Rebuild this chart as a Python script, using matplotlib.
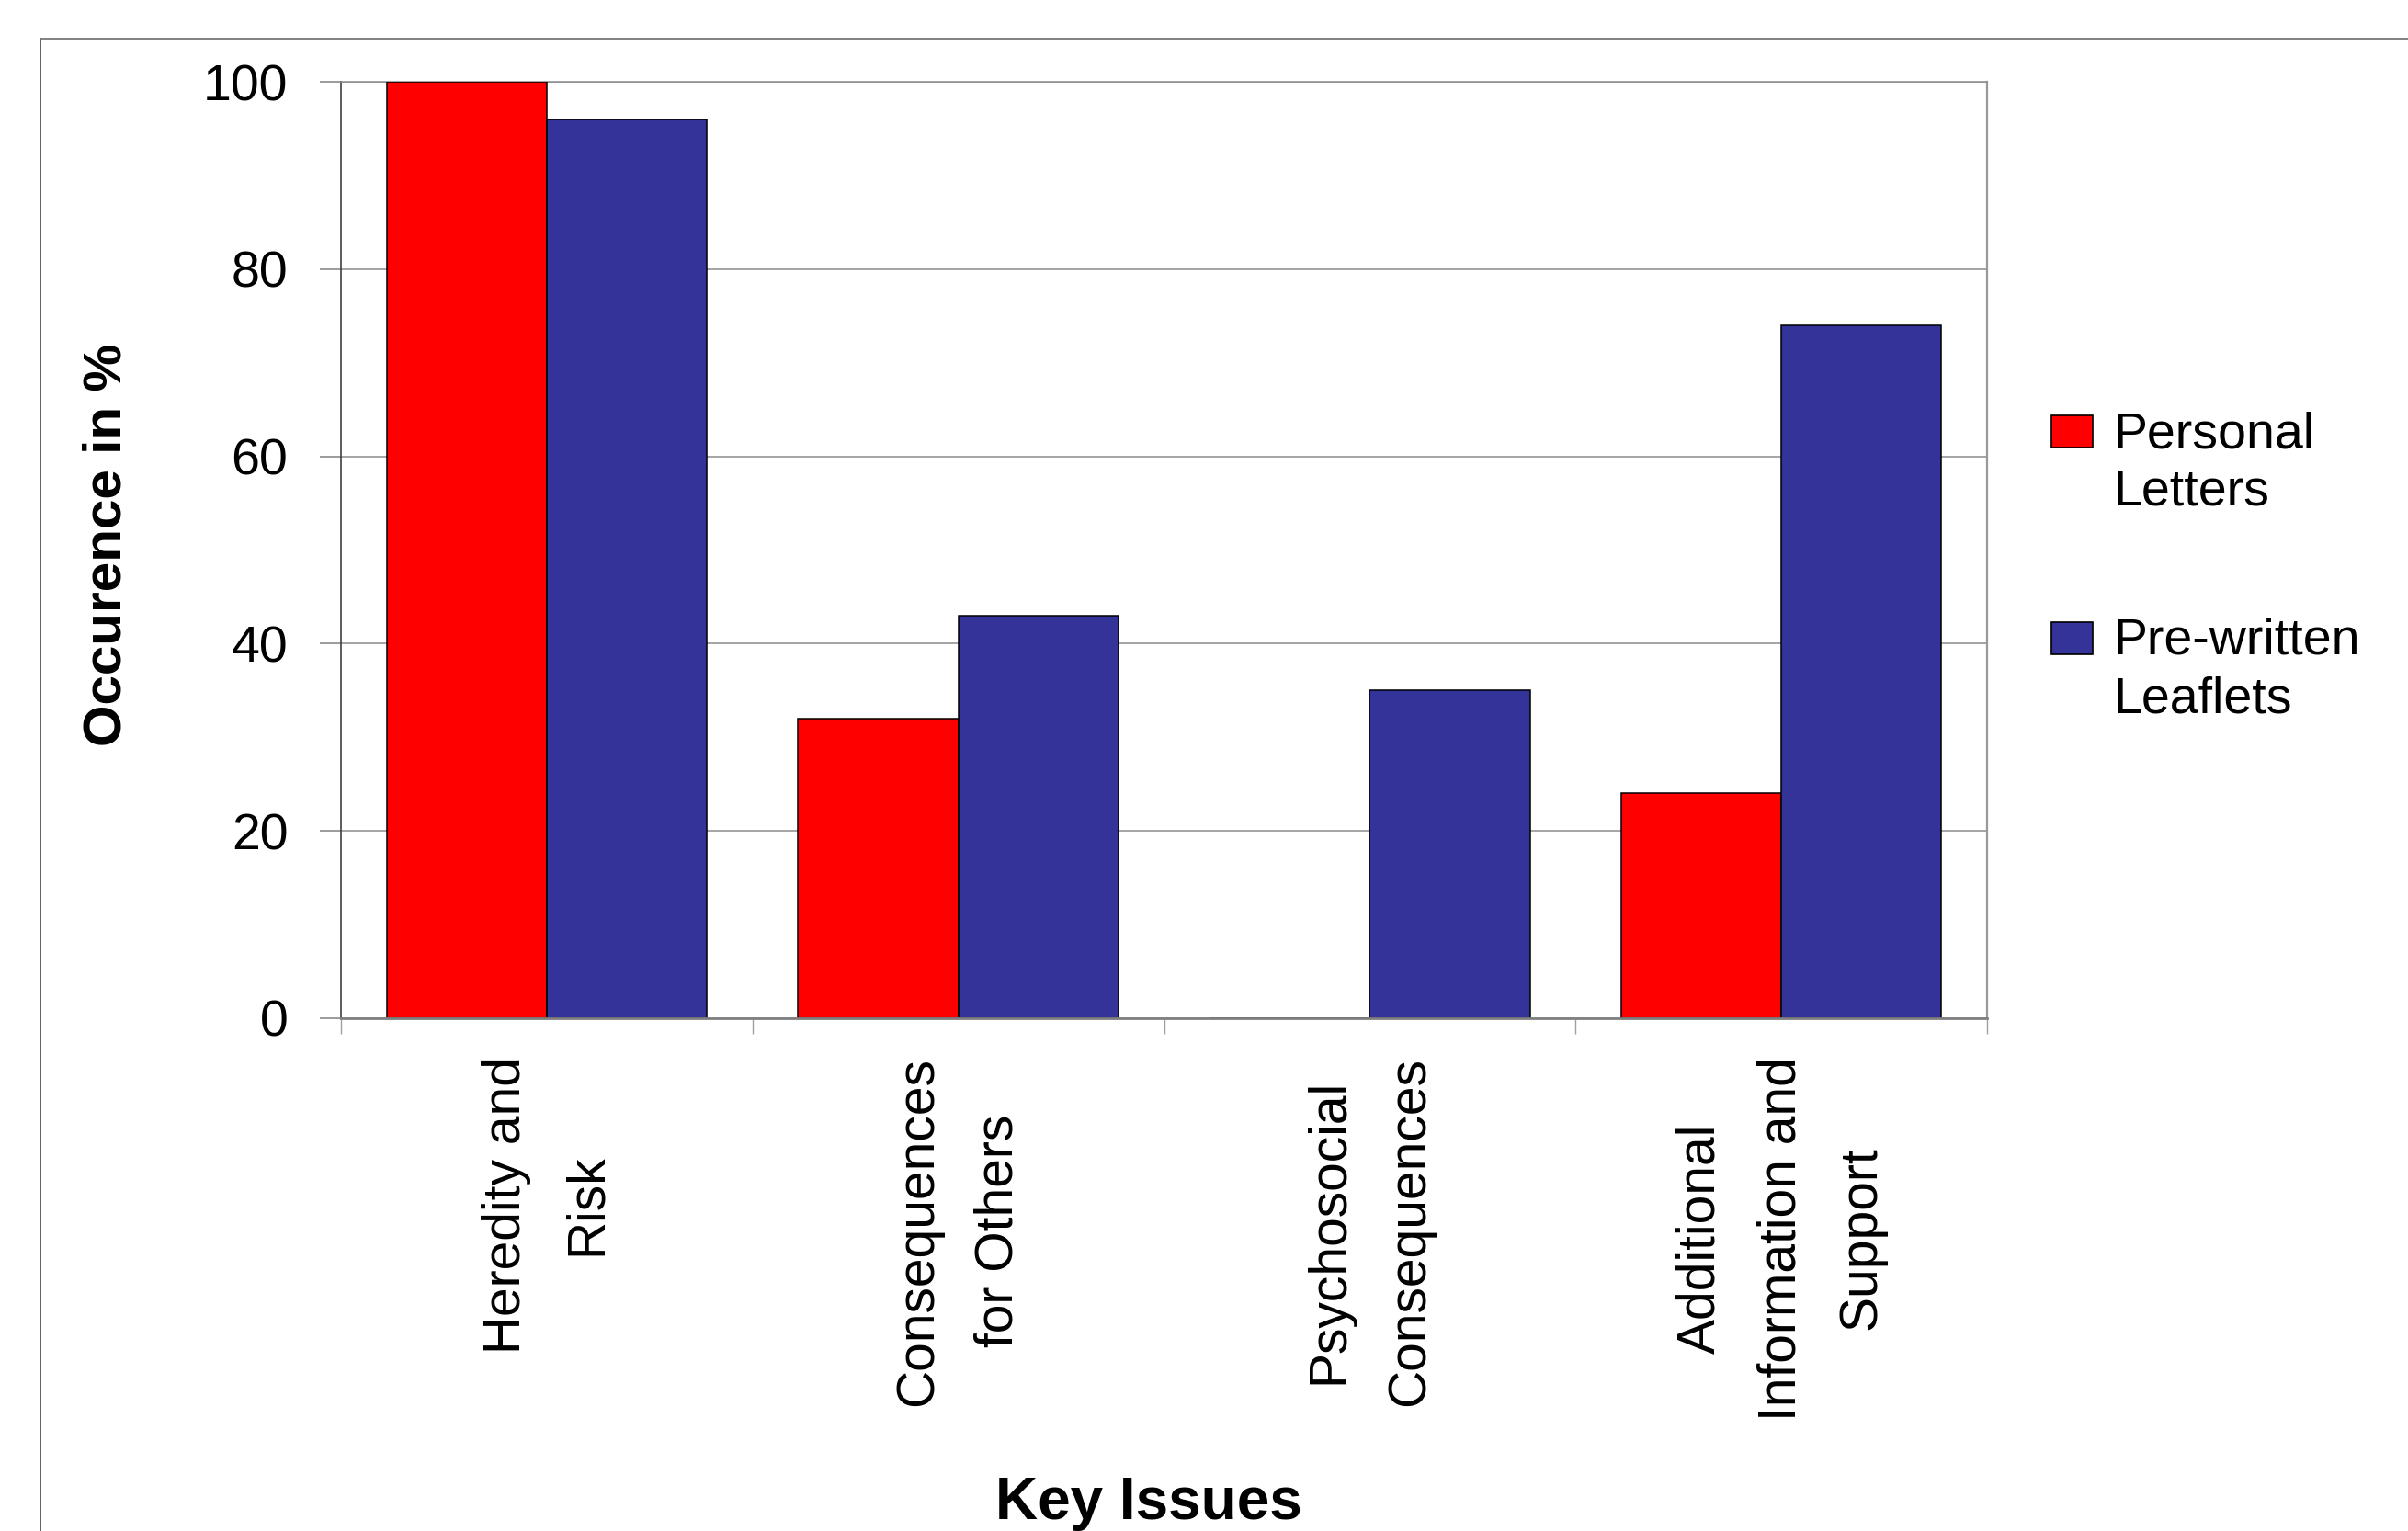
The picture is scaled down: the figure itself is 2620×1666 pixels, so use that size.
import numpy as np
import matplotlib.pyplot as plt
from matplotlib.lines import Line2D
from matplotlib.patches import Rectangle

plt.rcParams['font.family'] = ['Liberation Sans', 'DejaVu Sans']

# data
categories = ["Heredity and\nRisk", "Consequences\nfor Others",
              "Psychosocial\nConsequences", "Additional\nInformation and\nSupport"]
personal_letters = [100, 32, 0, 24]
prewritten_leaflets = [96, 43, 35, 74]
series_names = ["Personal\nLetters", "Pre-written\nLeaflets"]
series_colors = ["#FF0000", "#333399"]
yticks = [0, 20, 40, 60, 80, 100]

W, H = 2620, 1666
fig = plt.figure(figsize=(W / 100, H / 100), dpi=100)
fig.patch.set_facecolor("white")

# axes box in pixels: left 371, right 2162, top 89, bottom 1108
ax = fig.add_axes([371 / W, 1 - 1108 / H, (2162 - 371) / W, (1108 - 89) / H])

x = np.arange(len(categories))
bw = 0.389
ax.bar(x - bw / 2, personal_letters, bw, color=series_colors[0],
       edgecolor="black", linewidth=1.1, zorder=3)
ax.bar(x + bw / 2, prewritten_leaflets, bw, color=series_colors[1],
       edgecolor="black", linewidth=1.1, zorder=3)

ax.set_xlim(-0.5, len(categories) - 0.5)
ax.set_ylim(0, 100)
ax.set_yticks(yticks)
ax.yaxis.grid(True, color="#8c8c8c", linewidth=1.1, zorder=0)
ax.set_axisbelow(True)
ax.tick_params(axis="y", length=16.5, width=1.1, color="#808080", pad=25,
               labelsize=40)

ax.set_xticks(x)
ax.set_xticklabels(categories, rotation=90, fontsize=41,
                   multialignment="center", linespacing=1.8)
ax.set_xticks(np.arange(len(categories) + 1) - 0.5, minor=True)
ax.tick_params(axis="x", which="major", length=0, pad=30)
ax.tick_params(axis="x", which="minor", length=12.5, width=1.0,
               color="#a0a0a0")

ax.spines["left"].set_color("#404040")
ax.spines["left"].set_linewidth(1.2)
ax.spines["bottom"].set_color("#808080")
ax.spines["bottom"].set_linewidth(2.0)
ax.spines["bottom"].set_zorder(4)
ax.spines["right"].set_color("#999999")
ax.spines["right"].set_linewidth(1.6)
ax.spines["top"].set_color("#8c8c8c")
ax.spines["top"].set_linewidth(1.1)

fig.text(117 / W, 1 - 593 / H, "Occurence in %", rotation=90, ha="center",
         va="center", fontsize=42, fontweight="bold")
fig.text(1250 / W, 1 - 1636 / H, "Key Issues", ha="center", va="center",
         fontsize=46, fontweight="bold")

# legend: swatch aligned with first text line, like the original
legend_tops = [452, 677]
for name, col, top in zip(series_names, series_colors, legend_tops):
    fig.patches.append(Rectangle((2232 / W, 1 - (top + 35) / H), 45 / W, 35 / H,
                                 transform=fig.transFigure, facecolor=col,
                                 edgecolor="black", linewidth=1.2))
    for i, line in enumerate(name.split("\n")):
        base = top + 35 + i * 63
        fig.text(2300 / W, 1 - base / H, line, ha="left", va="baseline",
                 fontsize=40)

# outer chart frame (only top and left edges are visible)
fig.add_artist(Line2D([44 / W, 44 / W], [0, 1 - 42 / H], color="#555555",
                      linewidth=1.3, transform=fig.transFigure))
fig.add_artist(Line2D([44 / W, 1], [1 - 42 / H, 1 - 42 / H], color="#777777",
                      linewidth=1.3, transform=fig.transFigure))

fig.savefig("out.png", dpi=100)
